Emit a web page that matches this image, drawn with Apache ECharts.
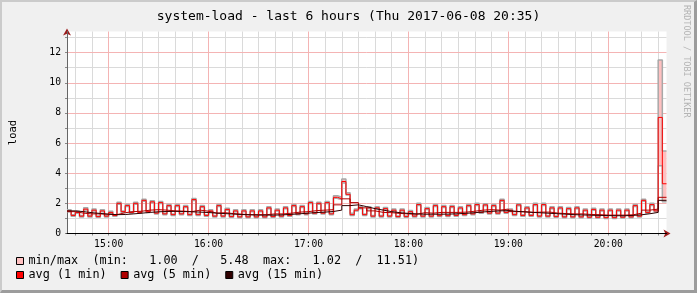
<!DOCTYPE html>
<html><head><meta charset="utf-8">
<script src="https://cdn.jsdelivr.net/npm/echarts@6/dist/echarts.min.js"></script>
<style>
html,body{margin:0;padding:0;background:#f0f0f0;}
#wrap{position:relative;width:697px;height:293px;overflow:hidden;}
#chart{position:absolute;left:0;top:0;width:697px;height:293px;}
#frame{position:absolute;left:0;top:0;width:697px;height:293px;box-sizing:border-box;border-top:2px solid #cbcbcb;border-left:2px solid #cbcbcb;border-right:3px solid #9c9c9c;border-bottom:3px solid #9c9c9c;pointer-events:none;}
</style></head><body>
<div id="wrap"><div id="chart"></div><div id="frame"></div></div>
<script>
// time domain in minutes since midnight: 14:35 .. 20:35
const startMinute = 875;
const endMinute = 1235;
const fineStep = 2.5;   // minutes per value in avg1/min/max
const coarseStep = 5;   // minutes per value in avg5/avg15

const hourTicks = [900, 960, 1020, 1080, 1140, 1200];
const hourLabels = ['15:00', '16:00', '17:00', '18:00', '19:00', '20:00'];
const yLabelValues = [0, 2, 4, 6, 8, 10, 12];
const yMajorLines = [2, 4, 6, 8, 10, 12];
const yMinorLines = [1, 3, 5, 7, 9, 11, 13];

const titleText = 'system-load - last 6 hours (Thu 2017-06-08 20:35)';
const minMaxLegend = 'min/max  (min:   1.00  /   5.48  max:   1.02  /  11.51)';

// avg (1 min), 2.5-minute values
const avg1 = [
1.50,1.20, 1.40,1.15, 1.62,1.15, 1.55,1.12, 1.50,1.15, 1.40,1.20,
2.00,1.45, 1.85,1.40, 2.00,1.40, 2.20,1.45, 2.10,1.35, 2.05,1.30,
1.85,1.25, 1.85,1.30, 1.78,1.25, 2.25,1.25, 1.78,1.20, 1.50,1.15,
1.85,1.15, 1.60,1.12, 1.50,1.10, 1.50,1.10, 1.50,1.10, 1.50,1.10,
1.70,1.12, 1.55,1.15, 1.70,1.20, 1.85,1.30, 1.78,1.30, 2.05,1.35,
2.00,1.35, 2.05,1.30, 2.40,2.30, 3.45,2.60, 1.25,1.55, 1.70,1.25,
1.70,1.15, 1.70,1.15, 1.65,1.15, 1.55,1.12, 1.55,1.12, 1.45,1.15,
1.92,1.15, 1.65,1.15, 1.85,1.18, 1.78,1.18, 1.78,1.20, 1.70,1.25,
1.85,1.30, 1.92,1.40, 1.90,1.35, 1.85,1.35, 2.20,1.40, 1.55,1.25,
1.90,1.20, 1.70,1.20, 1.92,1.15, 1.92,1.15, 1.70,1.12, 1.70,1.10,
1.65,1.10, 1.70,1.10, 1.55,1.08, 1.60,1.08, 1.55,1.05, 1.55,1.05,
1.55,1.08, 1.55,1.10, 1.85,1.15, 2.20,1.40, 1.92,1.50, 7.70,3.30
];
// max, 2.5-minute values
const maxVals = [
1.58,1.24, 1.48,1.19, 1.70,1.19, 1.63,1.16, 1.58,1.19, 1.48,1.24,
2.08,1.49, 1.93,1.44, 2.08,1.44, 2.28,1.49, 2.18,1.39, 2.13,1.34,
1.93,1.29, 1.93,1.34, 1.86,1.29, 2.33,1.29, 1.86,1.24, 1.58,1.19,
1.93,1.19, 1.68,1.16, 1.58,1.14, 1.58,1.14, 1.58,1.14, 1.58,1.14,
1.78,1.16, 1.63,1.19, 1.78,1.24, 1.93,1.34, 1.86,1.34, 2.13,1.39,
2.08,1.39, 2.13,1.34, 2.50,2.40, 3.62,2.70, 1.35,1.62, 1.78,1.30,
1.78,1.19, 1.78,1.19, 1.73,1.19, 1.63,1.16, 1.63,1.16, 1.53,1.19,
2.00,1.19, 1.73,1.19, 1.93,1.22, 1.86,1.22, 1.86,1.24, 1.78,1.29,
1.93,1.34, 2.00,1.44, 1.98,1.39, 1.93,1.39, 2.28,1.44, 1.63,1.29,
1.98,1.24, 1.78,1.24, 2.00,1.19, 2.00,1.19, 1.78,1.16, 1.78,1.14,
1.73,1.14, 1.78,1.14, 1.63,1.12, 1.68,1.12, 1.63,1.09, 1.63,1.09,
1.63,1.12, 1.63,1.14, 1.93,1.19, 2.28,1.44, 2.00,1.54, 11.51,5.48
];
// min, 2.5-minute values
const minVals = [
1.44,1.15, 1.34,1.10, 1.56,1.10, 1.49,1.07, 1.44,1.10, 1.34,1.15,
1.94,1.40, 1.79,1.35, 1.94,1.35, 2.14,1.40, 2.04,1.30, 1.99,1.25,
1.79,1.20, 1.79,1.25, 1.72,1.20, 2.19,1.20, 1.72,1.15, 1.44,1.10,
1.79,1.10, 1.54,1.07, 1.44,1.05, 1.44,1.05, 1.44,1.05, 1.44,1.05,
1.64,1.07, 1.49,1.10, 1.64,1.15, 1.79,1.25, 1.72,1.25, 1.99,1.30,
1.94,1.30, 1.99,1.25, 2.34,2.25, 3.35,2.55, 1.19,1.50, 1.64,1.20,
1.64,1.10, 1.64,1.10, 1.59,1.10, 1.49,1.07, 1.49,1.07, 1.39,1.10,
1.86,1.10, 1.59,1.10, 1.79,1.13, 1.72,1.13, 1.72,1.15, 1.64,1.20,
1.79,1.25, 1.86,1.35, 1.84,1.30, 1.79,1.30, 2.14,1.35, 1.49,1.20,
1.84,1.15, 1.64,1.15, 1.86,1.10, 1.86,1.10, 1.64,1.07, 1.64,1.05,
1.59,1.05, 1.64,1.05, 1.49,1.03, 1.54,1.03, 1.49,1.00, 1.49,1.00,
1.49,1.03, 1.49,1.05, 1.79,1.10, 2.14,1.35, 1.86,1.45, 4.50,2.10
];
// avg (5 min), 5-minute values
const avg5 = [
1.45,1.35,1.30,1.30,1.28,1.25,1.38,1.45,1.48,1.55,1.58,1.55,
1.50,1.48,1.45,1.55,1.48,1.35,1.38,1.32,1.28,1.25,1.25,1.25,
1.30,1.30,1.35,1.42,1.45,1.52,1.55,1.58,1.90,2.30,2.05,1.70,
1.50,1.40,1.38,1.33,1.30,1.28,1.38,1.35,1.40,1.40,1.40,1.42,
1.48,1.55,1.58,1.55,1.62,1.45,1.45,1.40,1.42,1.42,1.35,1.32,
1.30,1.30,1.26,1.25,1.22,1.22,1.22,1.24,1.35,1.55,1.62,2.40
];
// avg (15 min), 5-minute values
const avg15 = [
1.50,1.45,1.38,1.33,1.28,1.25,1.26,1.30,1.35,1.40,1.44,1.46,
1.47,1.46,1.44,1.42,1.39,1.35,1.32,1.29,1.26,1.24,1.22,1.22,
1.22,1.24,1.27,1.31,1.35,1.39,1.42,1.46,1.55,1.85,1.90,1.78,
1.65,1.55,1.45,1.38,1.33,1.30,1.28,1.28,1.28,1.29,1.31,1.34,
1.38,1.43,1.47,1.50,1.52,1.47,1.43,1.40,1.37,1.34,1.31,1.28,
1.25,1.23,1.21,1.20,1.19,1.18,1.18,1.20,1.24,1.31,1.40,2.20
];

function stepData(values, step) {
  const out = values.map((v, i) => [startMinute + i * step, v]);
  out.push([endMinute, values[values.length - 1]]);
  return out;
}
// band cells: [from, to, min, max]
const bandData = minVals.map((v, i) => [startMinute + i * fineStep, startMinute + (i + 1) * fineStep, v, maxVals[i]]);

const tenMinuteMarks = [];
for (let m = 880; m < endMinute; m += 10) tenMinuteMarks.push(m);
const minorX = tenMinuteMarks.filter(m => hourTicks.indexOf(m) < 0);

const minorColor = '#dadada';
const majorColor = '#f4b4b4';
const gridLines = [];
minorX.forEach(m => gridLines.push({ xAxis: m, lineStyle: { color: minorColor, width: 1, type: 'solid' } }));
yMinorLines.forEach(v => gridLines.push({ yAxis: v, lineStyle: { color: minorColor, width: 1, type: 'solid' } }));
hourTicks.forEach(m => gridLines.push({ xAxis: m, lineStyle: { color: majorColor, width: 1, type: 'solid' } }));
yMajorLines.forEach(v => gridLines.push({ yAxis: v, lineStyle: { color: majorColor, width: 1, type: 'solid' } }));

const mono = 'DejaVu Sans Mono';
const haloColor = '#a8a8a8';
const arrowColor = '#9a1a1a';
const chart = echarts.init(document.getElementById('chart'), null, { renderer: 'canvas' });
chart.setOption({
  animation: false,
  backgroundColor: '#f0f0f0',
  title: {
    text: titleText, left: 'center', top: 10, padding: 0,
    textStyle: { fontFamily: mono, fontSize: 13, fontWeight: 'normal', color: '#000' }
  },
  graphic: [{
    type: 'text', x: 691, y: 5, rotation: -Math.PI / 2,
    style: { text: 'RRDTOOL / TOBI OETIKER', fill: '#b4b4b4', font: '8.5px "DejaVu Sans Mono"', textAlign: 'left', textVerticalAlign: 'top' }
  }],
  grid: { left: 66.5, right: 30.5, top: 31.5, bottom: 59.5, show: true, backgroundColor: '#ffffff', borderWidth: 0 },
  legend: [{
    data: [{ name: 'min/max', itemStyle: { color: '#ffc0c0' } }],
    left: 16, top: 255, padding: 0, itemWidth: 7, itemHeight: 7, icon: 'rect',
    itemStyle: { borderColor: '#000', borderWidth: 1 },
    formatter: () => minMaxLegend,
    textStyle: { fontFamily: mono, fontSize: 11.8, color: '#000' },
    selectedMode: false
  }, {
    data: [
      { name: 'avg (1 min)', itemStyle: { color: '#ff0000' } },
      { name: 'avg (5 min)', itemStyle: { color: '#b00000' } },
      { name: 'avg (15 min)', itemStyle: { color: '#300000' } }
    ],
    left: 16, top: 269, padding: 0, itemWidth: 7, itemHeight: 7, itemGap: 14, icon: 'rect',
    itemStyle: { borderColor: '#000', borderWidth: 1 },
    textStyle: { fontFamily: mono, fontSize: 11.8, color: '#000' },
    selectedMode: false
  }],
  xAxis: [{
    type: 'value', min: startMinute, max: endMinute, z: 0,
    axisLine: { show: true, onZero: false, lineStyle: { color: arrowColor, width: 1 }, symbol: ['none', 'arrow'], symbolSize: [6, 7], symbolOffset: [0, 4] },
    axisTick: { show: true, customValues: tenMinuteMarks, length: 2, lineStyle: { color: '#888' } },
    axisLabel: {
      customValues: hourTicks, margin: 6, fontFamily: mono, fontSize: 9.7, color: '#000',
      formatter: v => { const i = hourTicks.indexOf(v); return i >= 0 ? hourLabels[i] : ''; }
    },
    splitLine: { show: false }
  }, {
    type: 'value', min: startMinute, max: endMinute, position: 'bottom', z: 1,
    axisLine: { show: true, onZero: false, lineStyle: { color: '#000', width: 1 } },
    axisTick: { show: false }, axisLabel: { show: false }, splitLine: { show: false }
  }],
  yAxis: [{
    type: 'value', min: 0, max: 13.4, z: 0,
    name: 'load', nameLocation: 'middle', nameRotate: 90, nameGap: 48,
    nameTextStyle: { fontFamily: mono, fontSize: 10.5, color: '#000' },
    axisLine: { show: true, lineStyle: { color: arrowColor, width: 1 }, symbol: ['none', 'arrow'], symbolSize: [6, 7], symbolOffset: [0, 3] },
    axisTick: { show: true, customValues: yLabelValues.concat(yMinorLines), length: 2, lineStyle: { color: '#888' } },
    axisLabel: { customValues: yLabelValues, margin: 6, fontFamily: mono, fontSize: 9.7, color: '#000' },
    splitLine: { show: false }
  }, {
    type: 'value', min: 0, max: 13.4, position: 'left', z: 1,
    axisLine: { show: true, onZero: false, lineStyle: { color: '#666', width: 1 } },
    axisTick: { show: false }, axisLabel: { show: false }, splitLine: { show: false }
  }],
  series: [
    {
      name: 'gridlines', type: 'line', data: [], silent: true, z: 1,
      markLine: { silent: true, symbol: ['none', 'none'], label: { show: false }, animation: false, z: 1, data: gridLines }
    },
    {
      name: 'min/max', type: 'custom', silent: true, z: 2,
      data: bandData,
      encode: { x: [0, 1], y: [2, 3] },
      itemStyle: { color: '#ffc0c0' },
      renderItem: (params, api) => {
        const pTop = api.coord([api.value(0), api.value(3)]);
        const pBot = api.coord([api.value(1), api.value(2)]);
        return {
          type: 'rect',
          shape: { x: pTop[0], y: pTop[1], width: pBot[0] - pTop[0], height: pBot[1] - pTop[1] },
          style: { fill: '#ffc0c0' }
        };
      }
    },
    {
      name: 'maxLine', type: 'line', step: 'end', symbol: 'none', silent: true, z: 3,
      data: stepData(maxVals, fineStep),
      lineStyle: { color: haloColor, width: 1.5 }, itemStyle: { color: haloColor }
    },
    {
      name: 'minLine', type: 'line', step: 'end', symbol: 'none', silent: true, z: 3,
      data: stepData(minVals, fineStep),
      lineStyle: { color: haloColor, width: 1.5 }, itemStyle: { color: haloColor }
    },
    {
      name: 'avg (1 min)', type: 'line', step: 'end', symbol: 'none', silent: true, z: 4,
      data: stepData(avg1, fineStep),
      lineStyle: { color: '#ff0000', width: 1 }, itemStyle: { color: '#ff0000' }
    },
    {
      name: 'avg (5 min)', type: 'line', step: 'end', symbol: 'none', silent: true, z: 5,
      data: stepData(avg5, coarseStep),
      lineStyle: { color: '#b00000', width: 1 }, itemStyle: { color: '#b00000' }
    },
    {
      name: 'avg (15 min)', type: 'line', step: 'end', symbol: 'none', silent: true, z: 6,
      data: stepData(avg15, coarseStep),
      lineStyle: { color: '#300000', width: 1 }, itemStyle: { color: '#300000' }
    }
  ]
});
</script>
</body></html>
